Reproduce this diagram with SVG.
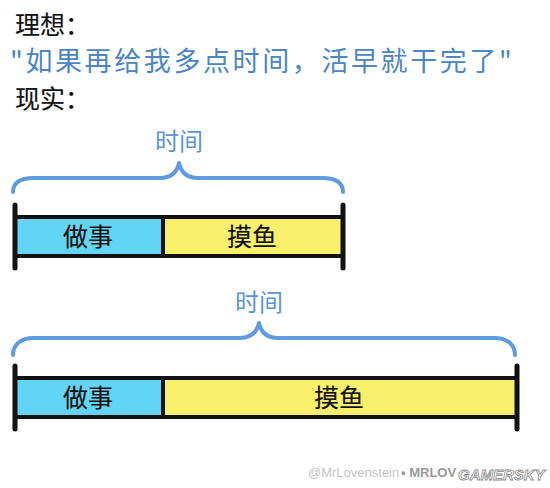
<svg xmlns="http://www.w3.org/2000/svg" width="550" height="488" viewBox="0 0 550 488">
<style>
.cjk{font-family:"Noto Sans CJK SC","Noto Sans",sans-serif;font-weight:400;}
.head{font-size:25px;fill:#111;stroke:#111;stroke-width:0.15;}
.quote{font-size:27px;fill:#4a86c8;letter-spacing:2.6px;}
.time{font-size:24px;fill:#5b95d8;text-anchor:middle;}
.lbl{font-size:25px;fill:#111;stroke:#111;stroke-width:0.15;text-anchor:middle;}
.brace{fill:none;stroke:#5f9be0;stroke-width:4;stroke-linecap:round;stroke-linejoin:round;}
.edge{stroke:#111;stroke-width:5;stroke-linecap:round;}
.work{fill:#62d5f5;stroke:#111;stroke-width:4;}
.slack{fill:#f8ef6a;stroke:#111;stroke-width:4;}
.wm{font-family:"Liberation Sans",Arial,sans-serif;font-size:13px;}
</style>
<rect width="550" height="488" fill="#fff"/>
<g id="header">
<text class="cjk head" x="15" y="34">理想：</text>
<text class="cjk quote" x="10" y="71">"如果再给我多点时间，活早就干完了"</text>
<text class="cjk head" x="15" y="108">现实：</text>
</g>
<g id="ideal-bar">
<text class="cjk time" x="179" y="150">时间</text>
<rect class="work" x="15" y="217" width="148" height="39"/>
<rect class="slack" x="163" y="217" width="180" height="39"/>
<text class="cjk lbl" x="88" y="246">做事</text>
<text class="cjk lbl" x="252" y="246">摸鱼</text>
</g>
<g id="real-bar">
<text class="cjk time" x="259" y="311">时间</text>
<rect class="work" x="15" y="378" width="148" height="39"/>
<rect class="slack" x="163" y="378" width="354" height="39"/>
<text class="cjk lbl" x="88" y="407">做事</text>
<text class="cjk lbl" x="339" y="407">摸鱼</text>
</g>
<g id="connectors">
<path class="brace" d="M13,192 C13,183 20,178 34,178 L160,178 C171,178 177,172 179,163 C181,172 187,178 198,178 L322,178 C336,178 343,183 343,192"/>
<line class="edge" x1="15" y1="205" x2="15" y2="268"/>
<line class="edge" x1="343" y1="205" x2="343" y2="268"/>
<path class="brace" d="M13,355 C13,345 20,338 34,338 L240,338 C251,338 257,332 259,323 C261,332 267,338 278,338 L494,338 C508,338 515,345 515,355"/>
<line class="edge" x1="15" y1="366" x2="15" y2="429"/>
<line class="edge" x1="517" y1="366" x2="517" y2="429"/>
</g>
<g id="watermark">
<text class="wm" x="308" y="477" fill="#c4c4c4">@MrLovenstein</text>
<text class="wm" x="401" y="477" fill="#9a9a9a" font-weight="bold">• MRLOV</text>
<text x="458" y="480" font-family="Liberation Sans,Arial,sans-serif" font-size="15" font-weight="bold" font-style="italic" fill="#fff" stroke="#8a8a8a" stroke-width="0.8">GAMERSKY</text>
</g>
</svg>
